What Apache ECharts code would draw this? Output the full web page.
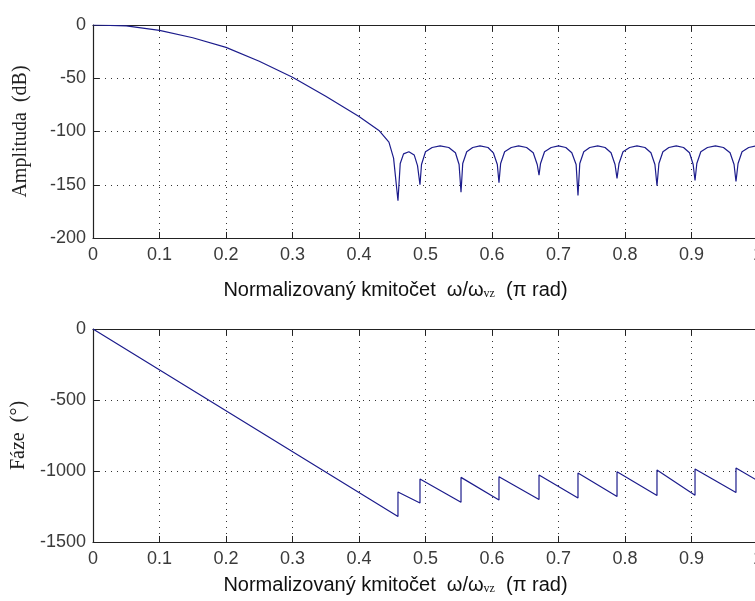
<!DOCTYPE html>
<html>
<head>
<meta charset="utf-8">
<script src="https://cdn.jsdelivr.net/npm/echarts@6/dist/echarts.min.js"></script>
<style>
html,body{margin:0;padding:0;background:#fff;}
#chart{width:755px;height:601px;}
</style>
</head>
<body>
<div id="chart"></div>
<script>
// ---- data ----
const xTicks = [0, 0.1, 0.2, 0.3, 0.4, 0.5, 0.6, 0.7, 0.8, 0.9, 1];
const magTicks = [-200, -150, -100, -50, 0];
const phaseTicks = [-1500, -1000, -500, 0];

// amplitude response (normalized freq, dB)
const magFreq = [
  0, 0.05, 0.10, 0.15, 0.20, 0.25, 0.30, 0.35, 0.40, 0.43, 0.445, 0.452,
  0.4586, 0.462, 0.467, 0.475, 0.483, 0.488,
  0.4917, 0.494, 0.500, 0.510, 0.522, 0.535, 0.545, 0.5505,
  0.5534, 0.556, 0.562, 0.571, 0.582, 0.594, 0.602, 0.608,
  0.6105, 0.613, 0.619, 0.629, 0.640, 0.652, 0.662, 0.668,
  0.6707, 0.673, 0.679, 0.689, 0.700, 0.711, 0.720, 0.7265,
  0.7293, 0.732, 0.738, 0.747, 0.759, 0.770, 0.779, 0.785,
  0.7880, 0.791, 0.797, 0.807, 0.818, 0.830, 0.839, 0.845,
  0.8481, 0.851, 0.857, 0.866, 0.877, 0.888, 0.897, 0.9025,
  0.9053, 0.908, 0.914, 0.924, 0.936, 0.948, 0.958, 0.964,
  0.9669, 0.970, 0.976, 0.986, 0.997, 1.0
];
const magDb = [
  0, -0.8, -5, -12, -21, -34, -49, -67, -86, -99, -110, -125,
  -165, -130, -121, -119, -122, -132,
  -150, -131, -119, -115, -113.5, -115, -120, -131,
  -157, -130, -119, -115, -113.5, -115, -120, -131,
  -148, -130, -119, -115, -113.5, -115, -120, -131,
  -141, -130, -119, -115, -113.5, -115, -120, -131,
  -160, -130, -119, -115, -113.5, -115, -120, -131,
  -144, -130, -119, -115, -113.5, -115, -120, -131,
  -151, -130, -119, -115, -113.5, -115, -120, -131,
  -146, -130, -119, -115, -113.5, -115, -120, -131,
  -147, -130, -119, -115, -113.5, -113.5
];

// phase response (normalized freq, degrees)
const phaseFreq = [
  0, 0.4586, 0.4586, 0.4917, 0.4917, 0.5534, 0.5534, 0.6105, 0.6105,
  0.6707, 0.6707, 0.7293, 0.7293, 0.7880, 0.7880, 0.8481, 0.8481,
  0.9053, 0.9053, 0.9669, 0.9669, 1.0
];
const phaseDeg = [
  0, -1320, -1148, -1225, -1056, -1220, -1045, -1204, -1040,
  -1200, -1028, -1190, -1014, -1180, -1005, -1172, -993,
  -1170, -986, -1152, -979, -1070
];

const xName = '{n|Normalizovaný kmitočet  ω/ω}{s|vz}{n|  (π rad)}';
const magName = 'Amplituda  (dB)';
const phaseName = 'Fáze  (°)';

// ---- chart ----
const lineColor = '#1c1c8c';
const axisColor = '#222';
const labelStyle = {color: '#3a3a3a', fontFamily: 'Liberation Sans, Arial, sans-serif', fontSize: 18, formatter: v => String(v)};
const gridLine = {show: true, lineStyle: {color: '#333', width: 1, type: [1, 5]}};

function bottomX(gi, gap) {
  return {
    type: 'value', gridIndex: gi, position: 'bottom',
    min: xTicks[0], max: xTicks[xTicks.length - 1], interval: xTicks[1] - xTicks[0],
    axisLine: {onZero: false, lineStyle: {color: axisColor, width: 1.2}},
    axisTick: {inside: true, length: 6, lineStyle: {color: axisColor}},
    axisLabel: Object.assign({margin: 8}, labelStyle),
    splitLine: gridLine,
    name: xName, nameLocation: 'middle', nameGap: gap,
    nameTextStyle: {
      padding: [0, 60, 0, 0],
      rich: {
        n: {fontFamily: 'Liberation Sans, Arial, sans-serif', fontSize: 20, color: '#111'},
        s: {fontFamily: 'Liberation Serif, serif', fontSize: 12, color: '#111', verticalAlign: 'bottom', padding: [8, 0, 0, 0]}
      }
    }
  };
}
function topX(gi) {
  return {
    type: 'value', gridIndex: gi, position: 'top',
    min: xTicks[0], max: xTicks[xTicks.length - 1], interval: xTicks[1] - xTicks[0],
    axisLine: {onZero: false, lineStyle: {color: axisColor, width: 1.2}},
    axisTick: {inside: true, length: 6, lineStyle: {color: axisColor}},
    axisLabel: {show: false},
    splitLine: {show: false}
  };
}
function leftY(gi, ticks, name, gap) {
  return {
    type: 'value', gridIndex: gi, position: 'left',
    min: ticks[0], max: ticks[ticks.length - 1], interval: ticks[1] - ticks[0],
    axisLine: {show: true, onZero: false, lineStyle: {color: axisColor, width: 1.2}},
    axisTick: {show: true, inside: true, length: 6, lineStyle: {color: axisColor}},
    axisLabel: Object.assign({margin: 7}, labelStyle),
    splitLine: gridLine,
    name: name, nameLocation: 'middle', nameGap: gap, nameRotate: 90,
    nameTextStyle: {fontFamily: 'Liberation Serif, Times New Roman, serif', fontSize: 20, color: '#222'}
  };
}

const chart = echarts.init(document.getElementById('chart'), null, {renderer: 'canvas'});
chart.setOption({
  backgroundColor: '#fff',
  animation: false,
  grid: [
    {left: 93, top: 25, width: 665, height: 213, containLabel: false, outerBoundsMode: 'none'},
    {left: 93, top: 329, width: 665, height: 213, containLabel: false, outerBoundsMode: 'none'}
  ],
  xAxis: [bottomX(0, 42), topX(0), bottomX(1, 33), topX(1)],
  yAxis: [leftY(0, magTicks, magName, 62), leftY(1, phaseTicks, phaseName, 64)],
  series: [
    {
      type: 'line', xAxisIndex: 0, yAxisIndex: 0, showSymbol: false,
      lineStyle: {color: lineColor, width: 1.2},
      data: magFreq.map((f, i) => [f, magDb[i]])
    },
    {
      type: 'line', xAxisIndex: 2, yAxisIndex: 1, showSymbol: false,
      lineStyle: {color: lineColor, width: 1.2},
      data: phaseFreq.map((f, i) => [f, phaseDeg[i]])
    }
  ]
});
</script>
</body>
</html>
